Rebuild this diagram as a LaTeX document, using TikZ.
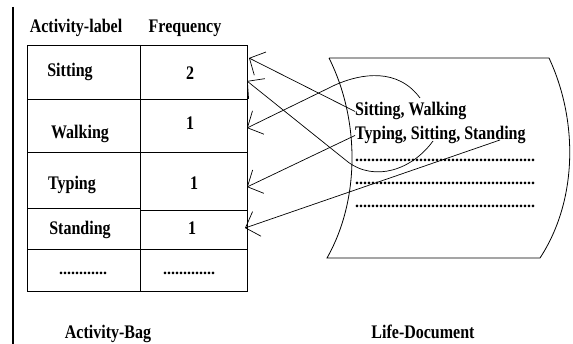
\documentclass[tikz,border=0pt]{standalone}
\usepackage{fontspec}
\setmainfont{Liberation Serif}
\usetikzlibrary{arrows.meta}
\newcommand{\tallbf}[1]{\scalebox{1}[1.2]{#1}}

\begin{document}
\begin{tikzpicture}[x=1pt, y=-1pt,
	lbl/.style={font=\bfseries\fontsize{16}{18}\selectfont, inner sep=0pt, anchor=base},
	doctxt/.style={lbl, anchor=base west},
	grid/.style={line width=0.9pt},
	pointer/.style={line width=0.7pt, -{Straight Barb[length=12pt, width=26pt, line width=0.7pt]}}]
			\useasboundingbox (0,0) rectangle (573,344);
			\draw[line width=1.2pt] (13,7) -- (13,344);
			% the bag table
			\draw[grid] (27,45) rectangle (247,291);
			\draw[grid] (140,45) -- (140,291);
			\draw[grid] (27,99) -- (247,99);
			\draw[grid] (27,152) -- (247,152);
			\draw[grid] (27,208) -- (140,208);
			\draw[grid] (140,210) -- (247,210);
			\draw[grid] (27,249) -- (247,249);
			\node[lbl] (hlabel) at (76,33) {\tallbf{Activity-label}};
			\node[lbl] (hfreq) at (185,33) {\tallbf{Frequency}};
			\node[lbl] (sitting) at (70,77) {\tallbf{Sitting}};
			\node[lbl] (fsit) at (190,80) {\tallbf{2}};
			\node[lbl] (walking) at (80,139) {\tallbf{Walking}};
			\node[lbl] (fwalk) at (190,130) {\tallbf{1}};
			\node[lbl] (typing) at (72,190) {\tallbf{Typing}};
			\node[lbl] (ftyp) at (194,190) {\tallbf{1}};
			\node[lbl] (standing) at (80,235) {\tallbf{Standing}};
			\node[lbl] (fstand) at (192,235) {\tallbf{1}};
			\node[lbl] (more) at (83,275) {............};
			\node[lbl] (fmore) at (189,275) {.............};
			\node[lbl] (bag) at (108,339) {\tallbf{Activity-Bag}};
			% the document
			\draw[line width=0.8pt] (329,58) -- (549,58) .. controls (578,120) and (578,200) .. (540,258)
				-- (327,258) .. controls (360,200) and (360,120) .. (329,58);
			\node[doctxt] (line1) at (355,116) {\tallbf{Sitting, Walking}};
			\node[doctxt] (line2) at (355,140) {\tallbf{Typing, Sitting, Standing}};
			\node[doctxt] (dots1) at (355,162) {.............................................};
			\node[doctxt] (dots2) at (355,185) {.............................................};
			\node[doctxt] (dots3) at (355,208) {.............................................};
			\node[lbl] (doc) at (423,339) {\tallbf{Life-Document}};
			% arrow ends
			\coordinate (sit1) at (249,58);
			\coordinate (sit2) at (247,81);
			\coordinate (walk) at (247,128);
			\coordinate (typ) at (247,187);
			\coordinate (stand) at (245,228);
			\coordinate (walkword) at (420,98);
			\coordinate (sitword) at (433,141);
			\coordinate (standword) at (500,140);
			\draw[pointer] (line1.west) -- (sit1);
			\draw[pointer] (sitword) .. controls (412,170) and (375,182) .. (348,162) -- (sit2);
			\draw[pointer] (walkword) .. controls (398,68) and (362,73) .. (335,85) -- (walk);
			\draw[pointer] (line2.west) -- (typ);
			\draw[pointer] (standword) -- (stand);
\end{tikzpicture}
\end{document}
